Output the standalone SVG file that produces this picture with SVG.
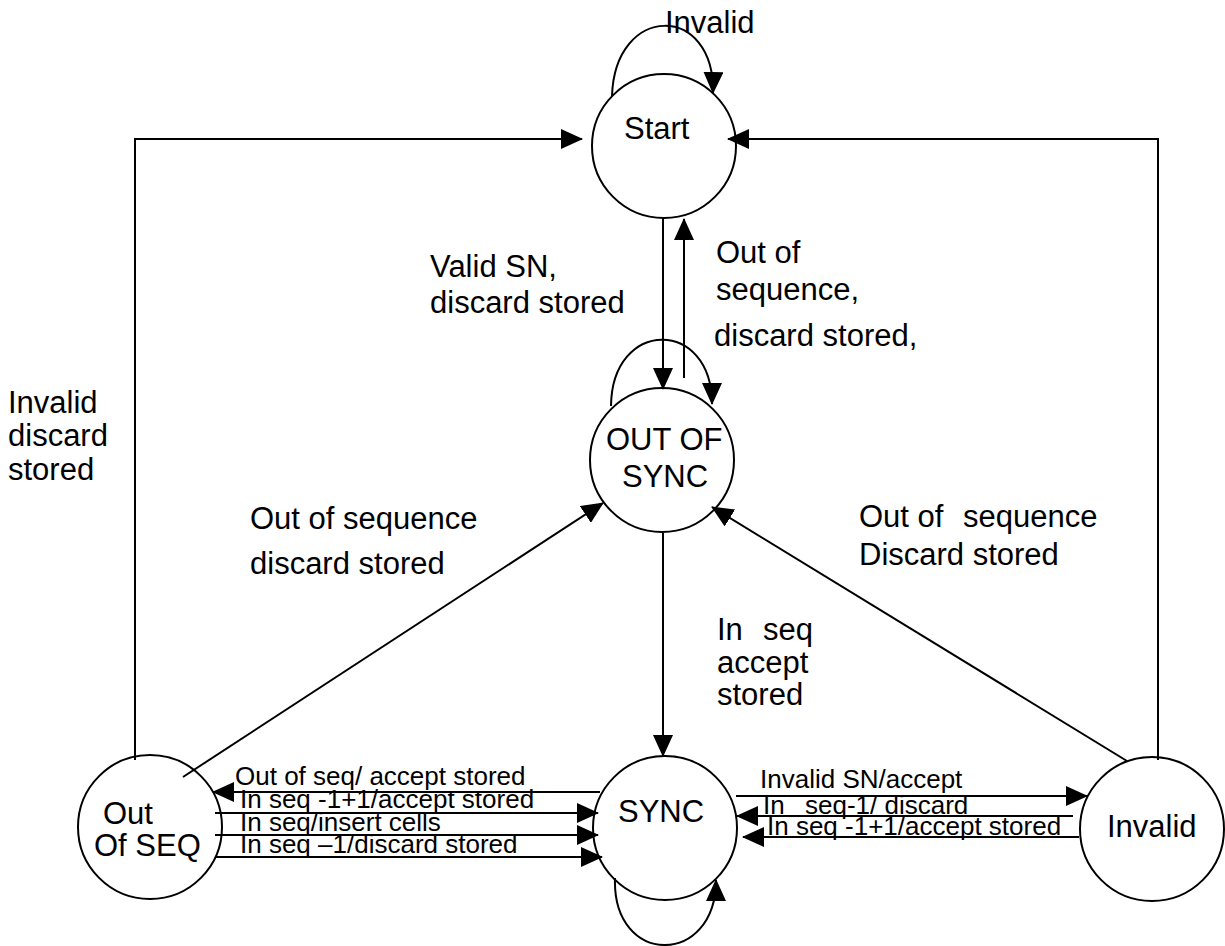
<svg xmlns="http://www.w3.org/2000/svg" width="1225" height="946" viewBox="0 0 1225 946">
<style>
.n{fill:#fff;stroke:#000;stroke-width:2}
.t{font-family:"Liberation Sans",Arial,sans-serif;font-size:31px;fill:#000}
.s{font-family:"Liberation Sans",Arial,sans-serif;font-size:26px;fill:#000}
.e{fill:none;stroke:#000;stroke-width:2}
</style>
<defs>
<marker id="ah" markerUnits="userSpaceOnUse" markerWidth="22" markerHeight="20" refX="21" refY="10" orient="auto">
<path d="M0,0 L22,10 L0,20 Z" fill="#000"/>
</marker>
</defs>
<rect width="1225" height="946" fill="#fff"/>
<g id="node-start"><circle class="n" cx="664" cy="146" r="72"/><text class="t" x="624" y="139">Start</text></g>
<g id="node-outofsync"><circle class="n" cx="662" cy="460" r="72"/><text class="t" x="606" y="450">OUT OF</text><text class="t" x="622" y="487">SYNC</text></g>
<g id="node-sync"><circle class="n" cx="665" cy="828" r="72"/><text class="t" x="618" y="822">SYNC</text></g>
<g id="node-outofseq"><circle class="n" cx="150" cy="827" r="72"/><text class="t" x="103" y="824">Out</text><text class="t" x="94" y="856">Of SEQ</text></g>
<g id="node-invalid"><circle class="n" cx="1152" cy="829" r="72"/><text class="t" x="1107" y="837">Invalid</text></g>
<g id="connectors">
<path class="e" d="M612,96 C615,3 715,3 713,93" marker-end="url(#ah)"/>
<path class="e" d="M663,218 L663,389" marker-end="url(#ah)"/>
<path class="e" d="M684,378 L684,219" marker-end="url(#ah)"/>
<path class="e" d="M611,406 C612,318 712,318 712,404" marker-end="url(#ah)"/>
<path class="e" d="M663,533 L663,756" marker-end="url(#ah)"/>
<path class="e" d="M183,777 L603,503" marker-end="url(#ah)"/>
<path class="e" d="M1127,761 L712,507" marker-end="url(#ah)"/>
<path class="e" d="M135,760 L135,139 L582,139" marker-end="url(#ah)"/>
<path class="e" d="M1158,760 L1158,139 L728,139" marker-end="url(#ah)"/>
<path class="e" d="M615,878 C612,967 716,967 716,880" marker-end="url(#ah)"/>
<path class="e" d="M600,792 L213,792" marker-end="url(#ah)"/>
<path class="e" d="M215,813 L598,813" marker-end="url(#ah)"/>
<path class="e" d="M215,835 L598,835" marker-end="url(#ah)"/>
<path class="e" d="M215,857 L602,857" marker-end="url(#ah)"/>
<path class="e" d="M736,796 L1087,796" marker-end="url(#ah)"/>
<path class="e" d="M1073,816 L737,816" marker-end="url(#ah)"/>
<path class="e" d="M1079,837 L743,837" marker-end="url(#ah)"/>
</g>
<g id="labels">
<text class="t" x="665" y="33">Invalid</text>
<text class="t" x="430" y="277">Valid SN,</text>
<text class="t" x="430" y="313">discard stored</text>
<text class="t" x="716" y="263">Out of</text>
<text class="t" x="716" y="300">sequence,</text>
<text class="t" x="714" y="346">discard stored,</text>
<text class="t" x="8" y="413">Invalid</text>
<text class="t" x="8" y="446">discard</text>
<text class="t" x="8" y="480">stored</text>
<text class="t" x="250" y="529">Out of sequence</text>
<text class="t" x="250" y="574">discard stored</text>
<text class="t" x="859" y="527">Out of<tspan x="963">sequence</tspan></text>
<text class="t" x="859" y="565">Discard stored</text>
<text class="t" x="717" y="640">In<tspan x="763">seq</tspan></text>
<text class="t" x="717" y="673">accept</text>
<text class="t" x="717" y="705">stored</text>
<text class="s" x="235" y="785">Out of seq/ accept stored</text>
<text class="s" x="240" y="808">In seq -1+1/accept stored</text>
<text class="s" x="240" y="831">In seq/insert cells</text>
<text class="s" x="240" y="853">In seq –1/discard stored</text>
<text class="s" x="760" y="788">Invalid SN/accept</text>
<text class="s" x="763" y="814">In<tspan x="805">seq-1/ discard</tspan></text>
<text class="s" x="767" y="835">In seq -1+1/accept stored</text>
</g>
</svg>
